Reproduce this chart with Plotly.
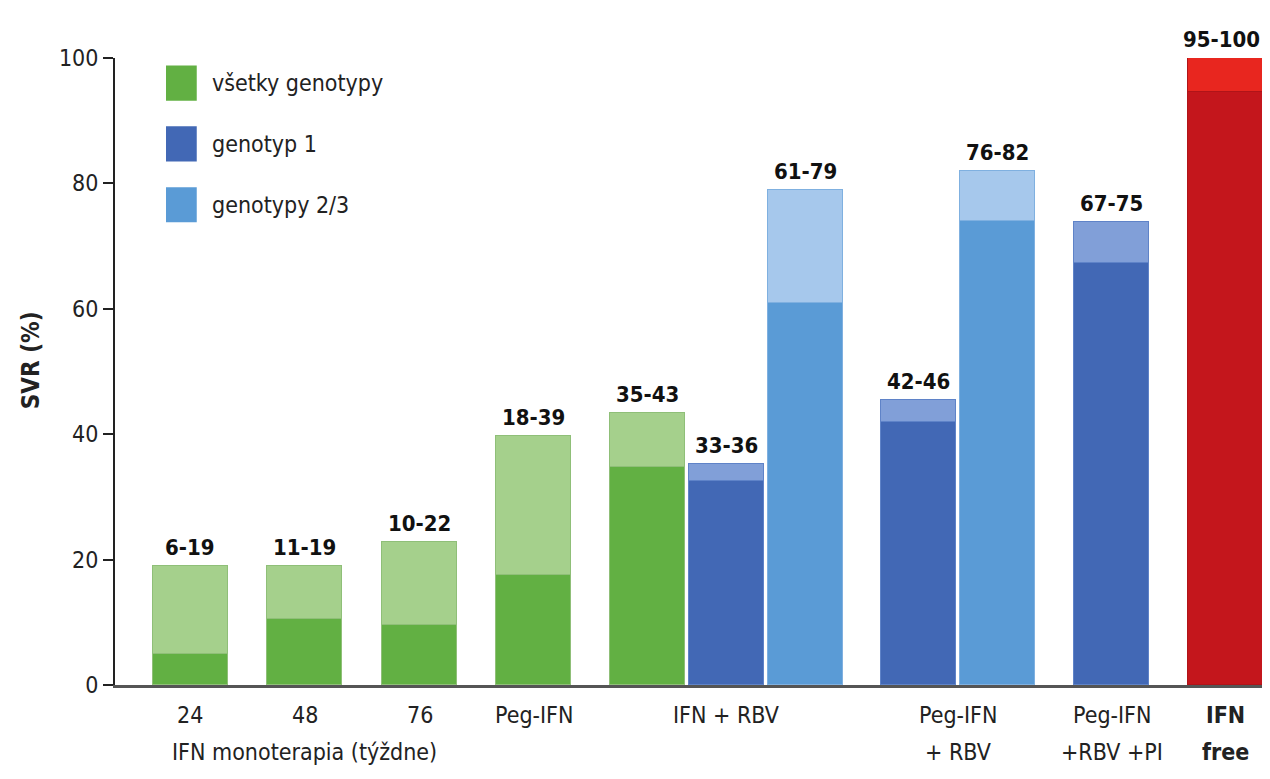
import plotly.graph_objects as go

# ---- data ----
labels = ["6-19", "11-19", "10-22", "18-39", "35-43", "33-36", "61-79",
          "42-46", "76-82", "67-75", "95-100"]
lower = [5, 10.5, 9.6, 17.5, 34.7, 32.5, 61, 41.9, 74, 67.3, 94.5]
upper = [19, 19, 22.8, 39.7, 43.4, 35.2, 79, 45.4, 82, 73.8, 100]
group = ["all", "all", "all", "all", "all", "g1", "g23", "g1", "g23", "g1", "free"]
legend_names = ["všetky genotypy", "genotyp 1", "genotypy 2/3"]

# ---- styling ----
pos = [1.0, 2.53, 4.06, 5.58, 7.1, 8.15, 9.2, 10.71, 11.76, 13.29, 14.81]
dark = {"all": "#62b043", "g1": "#4268b5", "g23": "#5a9bd6", "free": "#c4161c"}
light = {"all": "#a5d08c", "g1": "#819fd8", "g23": "#a6c8ec", "free": "#e8261f"}
edge = {"all": "#8fbf78", "g1": "#5f83c8", "g23": "#7fb0e0", "free": "#b01418"}
FONT = "DejaVu Sans Condensed, Liberation Sans Narrow, Open Sans, Arial"

fig = go.Figure()
fig.add_bar(x=pos, y=lower, width=1.0,
            marker=dict(color=[dark[g] for g in group],
                        line=dict(color=[edge[g] for g in group], width=1)),
            showlegend=False, hoverinfo="skip")
fig.add_bar(x=pos, y=[u - l for u, l in zip(upper, lower)], width=1.0,
            marker=dict(color=[light[g] for g in group],
                        line=dict(color=[edge[g] for g in group], width=1)),
            showlegend=False, hoverinfo="skip")

annotations = []
for i, (x, u, t) in enumerate(zip(pos, upper, labels)):
    annotations.append(dict(x=x, y=u, text="<b>%s</b>" % t, showarrow=False,
                            yanchor="bottom", yshift=4,
                            xshift=-4 if i == len(pos) - 1 else 0,
                            font=dict(size=22, color="#111", family=FONT)))

xlabels = [
    (pos[0], "24", 0), (pos[1], "48", 0), (pos[2], "76", 0),
    (pos[3], "Peg-IFN", 0), (pos[5], "IFN + RBV", 0),
    ((pos[7] + pos[8]) / 2, "Peg-IFN", 0), ((pos[7] + pos[8]) / 2, "+ RBV", 1),
    (pos[9], "Peg-IFN", 0), (pos[9], "+RBV +PI", 1),
    (pos[10], "<b>IFN</b>", 0), (pos[10], "<b>free</b>", 1),
    (pos[1], "IFN monoterapia (týždne)", 1),
]
for x, t, row in xlabels:
    annotations.append(dict(x=x, y=0, text=t, showarrow=False, yanchor="middle",
                            yshift=-30 - row * 37,
                            font=dict(size=23, color="#222", family=FONT)))

annotations.append(dict(xref="paper", yref="paper", x=-0.0727, y=0.518,
                        xanchor="center", yanchor="middle",
                        text="<b>SVR (%)</b>", textangle=-90, showarrow=False,
                        font=dict(size=24, color="#222", family=FONT)))

shapes = []
leg_colors = [dark["all"], dark["g1"], dark["g23"]]
for i, (name, c) in enumerate(zip(legend_names, leg_colors)):
    ytop = 98.8 - i * 9.7
    shapes.append(dict(type="rect", xref="x", yref="y", x0=0.68, x1=1.09,
                       y0=ytop - 5.6, y1=ytop, fillcolor=c, line=dict(width=0)))
    annotations.append(dict(x=1.26, y=ytop - 2.8, text=name, showarrow=False,
                            xanchor="left", yanchor="middle",
                            font=dict(size=23, color="#222", family=FONT)))

fig.update_layout(
    width=1262, height=771,
    margin=dict(l=107, r=0, t=50, b=94),
    plot_bgcolor="white", paper_bgcolor="white",
    barmode="stack", bargap=0,
    annotations=annotations, shapes=shapes,
    xaxis=dict(range=[0, 15.4], showticklabels=False, ticks="", showgrid=False,
               zeroline=False, showline=True, linecolor="#555", linewidth=3),
    yaxis=dict(range=[0, 100], tickvals=[0, 20, 40, 60, 80, 100], ticks="outside",
               ticklen=10, tickwidth=2, tickcolor="#222", showgrid=False,
               zeroline=False, showline=True, linecolor="#222", linewidth=2,
               tickfont=dict(size=23, color="#222", family=FONT)),
)

fig.write_html("out.html")
